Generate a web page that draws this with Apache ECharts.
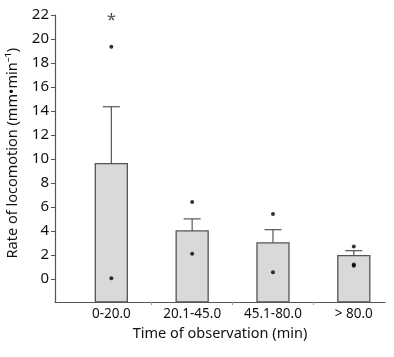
<!DOCTYPE html>
<html><head><meta charset="utf-8">
<script src="https://cdn.jsdelivr.net/npm/echarts@6/dist/echarts.min.js"></script>
<style>html,body{margin:0;padding:0;background:#fff}#c{width:394px;height:357px}</style>
</head><body><div id="c"></div>
<script>
var categories = ['0-20.0', '20.1-45.0', '45.1-80.0', '> 80.0'];
var means = [9.6, 4.0, 3.0, 1.93];
var errTop = [14.35, 5.0, 4.1, 2.35];
var points = [[1, 19.35], [1, 0.05], [2, 6.4], [2, 2.1], [3, 5.4], [3, 0.55], [4, 2.7], [4, 1.1], [4, 1.2]];
var yTicks = [0, 2, 4, 6, 8, 10, 12, 14, 16, 18, 20, 22];
var starPos = [1, 21.6];
var yTitle = 'Rate of locomotion (mm\u2022min\u207B\u00B9)';
var xTitle = 'Time of observation (min)';

var FONT = 'Noto Sans';
var Y_MIN = -1.93;
var pos = categories.map(function (c, i) { return i + 1; });
var chart = echarts.init(document.getElementById('c'));
chart.setOption({
  animation: false,
  grid: { left: 55, right: 9, top: 15, bottom: 55, containLabel: false },
  graphic: [{
    type: 'text', left: 5, top: 48,
    rotation: Math.PI / 2, originX: 0, originY: 0,
    style: { text: yTitle, fill: '#111', font: '14.5px "Noto Sans"' }
  }],
  xAxis: {
    type: 'value', min: 0.303, max: 4.386,
    splitLine: { show: false },
    axisLine: { onZero: false, lineStyle: { color: '#555', width: 1.2 } },
    axisTick: { customValues: [1.5, 2.5, 3.5], length: 3, lineStyle: { color: '#999' } },
    axisLabel: { customValues: pos, formatter: function (v) { return categories[Math.round(v) - 1] || ''; },
      color: '#111', fontFamily: FONT, fontSize: 13.5, margin: 5 },
    name: xTitle, nameLocation: 'middle', nameGap: 19,
    nameTextStyle: { color: '#111', fontFamily: FONT, fontSize: 14.5 }
  },
  yAxis: {
    type: 'value', min: Y_MIN, max: 22,
    splitLine: { show: false },
    axisLine: { show: true, onZero: false, lineStyle: { color: '#555', width: 1.2 } },
    axisTick: { show: true, customValues: yTicks, length: 4, lineStyle: { color: '#555' } },
    axisLabel: { customValues: yTicks, color: '#111', fontFamily: FONT, fontSize: 15, margin: 6 }
  },
  series: [
    {
      type: 'custom', z: 3,
      data: means.map(function (v, i) { return [pos[i], v]; }),
      renderItem: function (params, api) {
        var top = api.coord([api.value(0), api.value(1)]);
        var bot = api.coord([api.value(0), Y_MIN]);
        var w = 32;
        return { type: 'rect', shape: { x: top[0] - w / 2, y: top[1], width: w, height: bot[1] - top[1] },
          style: { fill: '#d9d9db', stroke: '#555', lineWidth: 1.3 } };
      }
    },
    {
      type: 'custom', z: 5,
      data: errTop.map(function (v, i) { return [pos[i], means[i], v]; }),
      renderItem: function (params, api) {
        var lo = api.coord([api.value(0), api.value(1)]);
        var hi = api.coord([api.value(0), api.value(2)]);
        var w = 8.5;
        var st = { stroke: '#555', lineWidth: 1.2 };
        return { type: 'group', children: [
          { type: 'line', shape: { x1: lo[0], y1: lo[1], x2: hi[0], y2: hi[1] }, style: st },
          { type: 'line', shape: { x1: hi[0] - w, y1: hi[1], x2: hi[0] + w, y2: hi[1] }, style: st }
        ] };
      }
    },
    {
      type: 'scatter', z: 6, symbol: 'circle', symbolSize: 4,
      data: points, itemStyle: { color: '#000' }
    },
    {
      type: 'scatter', z: 6, symbolSize: 0,
      data: [starPos],
      label: { show: true, position: 'inside', formatter: '*', fontSize: 17, color: '#222', fontFamily: FONT }
    }
  ]
});
</script></body></html>
